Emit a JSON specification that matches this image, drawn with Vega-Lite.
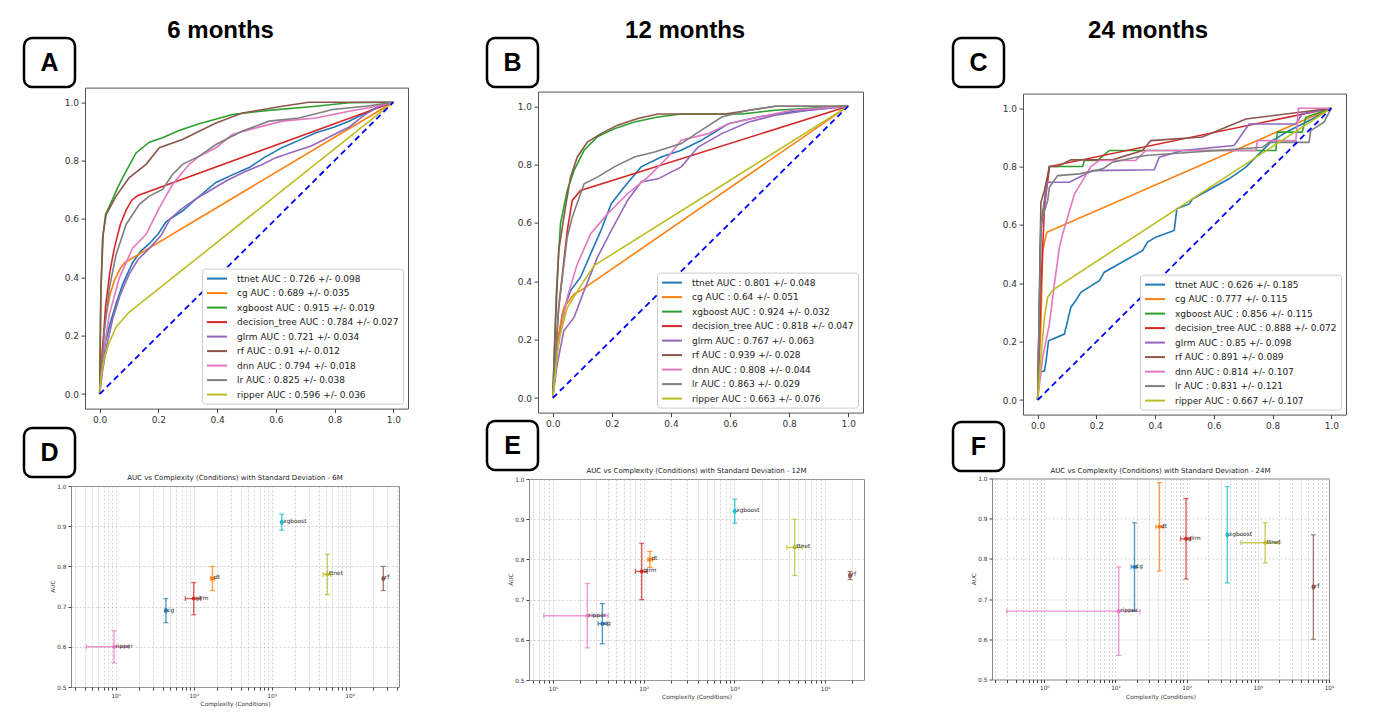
{
"$schema": "https://vega.github.io/schema/vega-lite/v6.json",
"background": "white",
"padding": {"left": 22, "top": 18, "right": 0, "bottom": 0},
"config": {"view": {"stroke": "#555", "strokeWidth": 1}, "font": "DejaVu Sans", "axis": {"labelOverlap": false}},
"resolve": {"scale": {"color": "independent"}},
"spacing": 86,
"hconcat": [
{
"resolve": {"scale": {"color": "independent"}},
"spacing": 76,
"hconcat": [
{
"title": {"text": "6 months", "fontSize": 24, "font": "Liberation Sans", "fontWeight": "bold", "color": "black", "anchor": "middle", "offset": -6, "dx": 5},
"resolve": {"scale": {"color": "independent"}},
"align": "none",
"spacing": 1,
"vconcat": [
{
"resolve": {"scale": {"color": "independent"}},
"align": "none",
"spacing": -2.4,
"vconcat": [
{"width": 51, "height": 49, "view": {"stroke": "black", "strokeWidth": 2.5, "cornerRadius": 8},
 "data": {"values": [{"t": "A"}]},
 "mark": {"type": "text", "fontSize": 25, "fontWeight": "bold", "font": "Liberation Sans", "color": "black"},
 "encoding": {"text": {"field": "t"}, "x": {"field": "t", "type": "nominal", "axis": null}, "y": {"field": "t", "type": "nominal", "axis": null}}},
{"resolve": {"scale": {"color": "independent"}, "legend": {"color": "independent"}},
 "spacing": 0,
 "hconcat": [
{"width": 1, "height": 1, "view": {"stroke": null}, "data": {"values": [{"t": ""}]}, "mark": {"type": "text", "baseline": "top", "align": "left", "fontSize": 1}, "encoding": {"text": {"field": "t"}}},
{"width": 323, "height": 321, "view": {"stroke": "#555"},
 "layer": [
 {"data": {"values": [
{"m":"ttnet","x":0,"y":0},{"m":"ttnet","x":0.008,"y":0.09},{"m":"ttnet","x":0.02,"y":0.18},{"m":"ttnet","x":0.035,"y":0.24},{"m":"ttnet","x":0.056,"y":0.31},{"m":"ttnet","x":0.08,"y":0.38},{"m":"ttnet","x":0.112,"y":0.45},{"m":"ttnet","x":0.14,"y":0.49},{"m":"ttnet","x":0.169,"y":0.515},{"m":"ttnet","x":0.2,"y":0.55},{"m":"ttnet","x":0.226,"y":0.59},{"m":"ttnet","x":0.255,"y":0.61},{"m":"ttnet","x":0.282,"y":0.627},{"m":"ttnet","x":0.33,"y":0.67},{"m":"ttnet","x":0.396,"y":0.725},{"m":"ttnet","x":0.45,"y":0.75},{"m":"ttnet","x":0.509,"y":0.776},{"m":"ttnet","x":0.56,"y":0.81},{"m":"ttnet","x":0.622,"y":0.845},{"m":"ttnet","x":0.68,"y":0.87},{"m":"ttnet","x":0.736,"y":0.895},{"m":"ttnet","x":0.8,"y":0.915},{"m":"ttnet","x":0.849,"y":0.935},{"m":"ttnet","x":0.9,"y":0.96},{"m":"ttnet","x":0.95,"y":0.985},{"m":"ttnet","x":1,"y":1},
{"m":"cg","x":0,"y":0},{"m":"cg","x":0.008,"y":0.15},{"m":"cg","x":0.02,"y":0.26},{"m":"cg","x":0.035,"y":0.34},{"m":"cg","x":0.05,"y":0.39},{"m":"cg","x":0.07,"y":0.43},{"m":"cg","x":0.085,"y":0.45},{"m":"cg","x":1,"y":1},
{"m":"xgboost","x":0,"y":0},{"m":"xgboost","x":0.004,"y":0.35},{"m":"xgboost","x":0.012,"y":0.55},{"m":"xgboost","x":0.02,"y":0.615},{"m":"xgboost","x":0.044,"y":0.667},{"m":"xgboost","x":0.061,"y":0.707},{"m":"xgboost","x":0.09,"y":0.764},{"m":"xgboost","x":0.124,"y":0.826},{"m":"xgboost","x":0.169,"y":0.863},{"m":"xgboost","x":0.214,"y":0.878},{"m":"xgboost","x":0.27,"y":0.903},{"m":"xgboost","x":0.339,"y":0.926},{"m":"xgboost","x":0.452,"y":0.958},{"m":"xgboost","x":0.566,"y":0.971},{"m":"xgboost","x":0.736,"y":0.986},{"m":"xgboost","x":0.849,"y":0.998},{"m":"xgboost","x":1,"y":1},
{"m":"decision_tree","x":0,"y":0},{"m":"decision_tree","x":0.008,"y":0.12},{"m":"decision_tree","x":0.02,"y":0.3},{"m":"decision_tree","x":0.035,"y":0.42},{"m":"decision_tree","x":0.05,"y":0.5},{"m":"decision_tree","x":0.07,"y":0.58},{"m":"decision_tree","x":0.09,"y":0.63},{"m":"decision_tree","x":0.11,"y":0.665},{"m":"decision_tree","x":0.13,"y":0.68},{"m":"decision_tree","x":1,"y":1},
{"m":"glrm","x":0,"y":0},{"m":"glrm","x":0.01,"y":0.08},{"m":"glrm","x":0.025,"y":0.17},{"m":"glrm","x":0.045,"y":0.26},{"m":"glrm","x":0.07,"y":0.34},{"m":"glrm","x":0.1,"y":0.41},{"m":"glrm","x":0.13,"y":0.46},{"m":"glrm","x":0.17,"y":0.5},{"m":"glrm","x":0.21,"y":0.545},{"m":"glrm","x":0.24,"y":0.6},{"m":"glrm","x":0.28,"y":0.635},{"m":"glrm","x":0.33,"y":0.67},{"m":"glrm","x":0.38,"y":0.7},{"m":"glrm","x":0.43,"y":0.73},{"m":"glrm","x":0.49,"y":0.76},{"m":"glrm","x":0.55,"y":0.785},{"m":"glrm","x":0.6,"y":0.81},{"m":"glrm","x":0.66,"y":0.83},{"m":"glrm","x":0.72,"y":0.85},{"m":"glrm","x":0.79,"y":0.885},{"m":"glrm","x":0.85,"y":0.915},{"m":"glrm","x":0.9,"y":0.955},{"m":"glrm","x":0.95,"y":0.985},{"m":"glrm","x":1,"y":1},
{"m":"rf","x":0,"y":0},{"m":"rf","x":0.004,"y":0.35},{"m":"rf","x":0.01,"y":0.535},{"m":"rf","x":0.022,"y":0.615},{"m":"rf","x":0.056,"y":0.678},{"m":"rf","x":0.1,"y":0.741},{"m":"rf","x":0.158,"y":0.787},{"m":"rf","x":0.203,"y":0.844},{"m":"rf","x":0.282,"y":0.872},{"m":"rf","x":0.396,"y":0.929},{"m":"rf","x":0.486,"y":0.963},{"m":"rf","x":0.622,"y":0.986},{"m":"rf","x":0.712,"y":1},{"m":"rf","x":1,"y":1},
{"m":"dnn","x":0,"y":0},{"m":"dnn","x":0.01,"y":0.124},{"m":"dnn","x":0.033,"y":0.273},{"m":"dnn","x":0.067,"y":0.398},{"m":"dnn","x":0.112,"y":0.5},{"m":"dnn","x":0.158,"y":0.547},{"m":"dnn","x":0.203,"y":0.638},{"m":"dnn","x":0.248,"y":0.718},{"m":"dnn","x":0.305,"y":0.787},{"m":"dnn","x":0.339,"y":0.815},{"m":"dnn","x":0.396,"y":0.844},{"m":"dnn","x":0.452,"y":0.889},{"m":"dnn","x":0.532,"y":0.912},{"m":"dnn","x":0.622,"y":0.935},{"m":"dnn","x":0.736,"y":0.946},{"m":"dnn","x":0.849,"y":0.969},{"m":"dnn","x":0.917,"y":0.981},{"m":"dnn","x":1,"y":1},
{"m":"lr","x":0,"y":0},{"m":"lr","x":0.016,"y":0.216},{"m":"lr","x":0.033,"y":0.364},{"m":"lr","x":0.056,"y":0.478},{"m":"lr","x":0.09,"y":0.581},{"m":"lr","x":0.135,"y":0.65},{"m":"lr","x":0.169,"y":0.678},{"m":"lr","x":0.214,"y":0.701},{"m":"lr","x":0.248,"y":0.752},{"m":"lr","x":0.282,"y":0.787},{"m":"lr","x":0.339,"y":0.815},{"m":"lr","x":0.396,"y":0.855},{"m":"lr","x":0.486,"y":0.901},{"m":"lr","x":0.577,"y":0.935},{"m":"lr","x":0.679,"y":0.946},{"m":"lr","x":0.793,"y":0.975},{"m":"lr","x":0.906,"y":0.986},{"m":"lr","x":1,"y":1},
{"m":"ripper","x":0,"y":0},{"m":"ripper","x":0.005,"y":0.06},{"m":"ripper","x":0.015,"y":0.12},{"m":"ripper","x":0.03,"y":0.17},{"m":"ripper","x":0.056,"y":0.23},{"m":"ripper","x":0.1,"y":0.28},{"m":"ripper","x":0.15,"y":0.32},{"m":"ripper","x":1,"y":1}
 ]},
 "mark": {"type": "line", "strokeWidth": 1.6},
 "encoding": {
  "x": {"field": "x", "type": "quantitative", "scale": {"domain": [-0.05, 1.05], "nice": false, "zero": false}, "axis": {"values": [0,0.2,0.4,0.6,0.8,1], "format": ".1f", "title": null, "grid": false, "domain": false, "tickSize": 4, "tickColor": "#444", "labelFontSize": 9, "labelColor": "#333", "labelPadding": 2.5}},
  "y": {"field": "y", "type": "quantitative", "scale": {"domain": [-0.05, 1.05], "nice": false, "zero": false}, "axis": {"values": [0,0.2,0.4,0.6,0.8,1], "format": ".1f", "title": null, "grid": false, "domain": false, "tickSize": 4, "tickColor": "#444", "labelFontSize": 9, "labelColor": "#333", "labelPadding": 2.5, "minExtent": 59, "maxExtent": 59}},
  "color": {"field": "m", "type": "nominal", "scale": {"domain": ["ttnet","cg","xgboost","decision_tree","glrm","rf","dnn","lr","ripper"], "range": ["#1f77b4","#ff7f0e","#2ca02c","#d62728","#9467bd","#8c564b","#e377c2","#7f7f7f","#bcbd22"]},
   "legend": {"title": null, "orient": "bottom-right", "offset": 5, "padding": 4, "fillColor": "white", "strokeColor": "#ccc", "cornerRadius": 3, "labelFontSize": 9, "labelColor": "#222", "symbolType": "M-1,0H3", "symbolStrokeWidth": 2, "symbolSize": 100, "rowPadding": 3.5, "labelOffset": 19, "labelLimit": 400,
    "labelExpr": "datum.label + ' AUC : ' + (datum.label == 'ttnet' ? '0.726 +/- 0.098' : datum.label == 'cg' ? '0.689 +/- 0.035' : datum.label == 'xgboost' ? '0.915 +/- 0.019' : datum.label == 'decision_tree' ? '0.784 +/- 0.027' : datum.label == 'glrm' ? '0.721 +/- 0.034' : datum.label == 'rf' ? '0.91 +/- 0.012' : datum.label == 'dnn' ? '0.794 +/- 0.018' : datum.label == 'lr' ? '0.825 +/- 0.038' : '0.596 +/- 0.036')"}},
  "order": [{"field": "x", "type": "quantitative"}, {"field": "y", "type": "quantitative"}]
 }},
 {"data": {"values": [{"x": 0, "y": 0}, {"x": 1, "y": 1}]},
  "mark": {"type": "line", "color": "blue", "strokeDash": [6, 4], "strokeWidth": 1.8},
  "encoding": {"x": {"field": "x", "type": "quantitative"}, "y": {"field": "y", "type": "quantitative"}}}
 ]}
]}
]
},
{
"resolve": {"scale": {"color": "independent"}},
"align": "none",
"spacing": -6,
"vconcat": [
{"width": 51, "height": 49, "view": {"stroke": "black", "strokeWidth": 2.5, "cornerRadius": 8},
 "data": {"values": [{"t": "D"}]},
 "mark": {"type": "text", "fontSize": 25, "fontWeight": "bold", "font": "Liberation Sans", "color": "black"},
 "encoding": {"text": {"field": "t"}, "x": {"field": "t", "type": "nominal", "axis": null}, "y": {"field": "t", "type": "nominal", "axis": null}}},
{"resolve": {"scale": {"color": "independent"}},
 "spacing": 0,
 "hconcat": [
{"width": 1, "height": 1, "view": {"stroke": null}, "data": {"values": [{"t": ""}]}, "mark": {"type": "text", "baseline": "top", "align": "left", "fontSize": 1}, "encoding": {"text": {"field": "t"}}},
{"width": 328, "height": 201, "view": {"stroke": "#888"},
 "title": {"text": "AUC vs Complexity (Conditions) with Standard Deviation - 6M", "fontSize": 7, "fontWeight": "normal", "font": "DejaVu Sans", "color": "#222", "offset": 2, "anchor": "middle"},
 "data": {"values": [
  {"m":"ripper","c":9.5,"clo":4.2,"chi":14.8,"a":0.60,"alo":0.56,"ahi":0.64},
  {"m":"cg","c":44,"clo":43,"chi":45,"a":0.69,"alo":0.66,"ahi":0.72},
  {"m":"glrm","c":100,"clo":78,"chi":122,"a":0.72,"alo":0.68,"ahi":0.76},
  {"m":"dt","c":174,"clo":164,"chi":185,"a":0.77,"alo":0.74,"ahi":0.80},
  {"m":"xgboost","c":1345,"clo":1320,"chi":1370,"a":0.91,"alo":0.89,"ahi":0.93},
  {"m":"ttnet","c":5180,"clo":4570,"chi":5760,"a":0.78,"alo":0.73,"ahi":0.83},
  {"m":"rf","c":27000,"clo":26500,"chi":27500,"a":0.77,"alo":0.74,"ahi":0.80}
 ]},
 "layer": [
  {"mark": {"type": "rule", "strokeWidth": 1.4, "opacity": 0.75},
   "encoding": {
    "x": {"field": "c", "type": "quantitative", "scale": {"type": "log", "domain": [2.67, 42900], "nice": false}, "axis": {"title": "Complexity (Conditions)", "values": [3,4,5,6,7,8,9,10,20,30,40,50,60,70,80,90,100,200,300,400,500,600,700,800,900,1000,2000,3000,4000,5000,6000,7000,8000,9000,10000,20000,30000,40000], "labelExpr": "datum.value === 1 ? '10⁰' : datum.value === 10 ? '10¹' : datum.value === 100 ? '10²' : datum.value === 1000 ? '10³' : datum.value === 10000 ? '10⁴' : ''", "labelOverlap": false, "labelFlush": false, "grid": true, "gridDash": [2, 2], "gridColor": "#bbb", "gridWidth": 0.6, "domain": false, "tickSize": 3, "tickColor": "#444", "labelFontSize": 5.8, "labelColor": "#333", "labelPadding": 2, "titleFontSize": 5.8, "titleFontWeight": "normal", "titleColor": "#333", "titlePadding": 3}},
    "y": {"field": "alo", "type": "quantitative", "scale": {"domain": [0.5, 1.0], "nice": false, "zero": false}, "axis": {"title": "AUC", "values": [0.5,0.6,0.7,0.8,0.9,1.0], "format": ".1f", "labelOverlap": false, "grid": true, "gridDash": [2, 2], "gridColor": "#bbb", "gridWidth": 0.6, "domain": false, "tickSize": 3, "tickColor": "#444", "labelFontSize": 5.8, "labelColor": "#333", "labelPadding": 2, "titleFontSize": 5.8, "titleFontWeight": "normal", "titleColor": "#333", "minExtent": 45, "maxExtent": 45, "titleX": -16, "titleY": 100}},
    "y2": {"field": "ahi"},
    "color": {"field": "m", "type": "nominal", "scale": {"domain": ["ripper","cg","glrm","dt","xgboost","ttnet","rf"], "range": ["#e377c2","#1f77b4","#d62728","#ff7f0e","#17becf","#bcbd22","#8c564b"]}, "legend": null}}},
  {"mark": {"type": "rule", "strokeWidth": 1.4, "opacity": 0.75},
   "encoding": {"x": {"field": "clo", "type": "quantitative"}, "x2": {"field": "chi"}, "y": {"field": "a", "type": "quantitative"}, "color": {"field": "m", "type": "nominal", "legend": null}}},
  {"mark": {"type": "tick", "orient": "horizontal", "size": 5, "thickness": 1.2, "opacity": 0.75},
   "encoding": {"x": {"field": "c", "type": "quantitative"}, "y": {"field": "alo", "type": "quantitative"}, "color": {"field": "m", "type": "nominal", "legend": null}}},
  {"mark": {"type": "tick", "orient": "horizontal", "size": 5, "thickness": 1.2, "opacity": 0.75},
   "encoding": {"x": {"field": "c", "type": "quantitative"}, "y": {"field": "ahi", "type": "quantitative"}, "color": {"field": "m", "type": "nominal", "legend": null}}},
  {"mark": {"type": "tick", "orient": "vertical", "size": 5, "thickness": 1.2, "opacity": 0.75},
   "encoding": {"x": {"field": "clo", "type": "quantitative"}, "y": {"field": "a", "type": "quantitative"}, "color": {"field": "m", "type": "nominal", "legend": null}}},
  {"mark": {"type": "tick", "orient": "vertical", "size": 5, "thickness": 1.2, "opacity": 0.75},
   "encoding": {"x": {"field": "chi", "type": "quantitative"}, "y": {"field": "a", "type": "quantitative"}, "color": {"field": "m", "type": "nominal", "legend": null}}},
  {"mark": {"type": "circle", "size": 16, "opacity": 1},
   "encoding": {"x": {"field": "c", "type": "quantitative"}, "y": {"field": "a", "type": "quantitative"}, "color": {"field": "m", "type": "nominal", "legend": null}}},
  {"mark": {"type": "text", "align": "left", "dx": 1.5, "dy": -1, "fontSize": 5.8, "color": "#222"},
   "encoding": {"x": {"field": "c", "type": "quantitative"}, "y": {"field": "a", "type": "quantitative"}, "text": {"field": "m"}}}
 ]}
]}
]
}
]
},
{
"title": {"text": "12 months", "fontSize": 24, "font": "Liberation Sans", "fontWeight": "bold", "color": "black", "anchor": "middle", "offset": -6, "dx": 10},
"resolve": {"scale": {"color": "independent"}},
"align": "none",
"spacing": -10,
"vconcat": [
{
"resolve": {"scale": {"color": "independent"}},
"align": "none",
"spacing": 1.6,
"vconcat": [
{"width": 51, "height": 49, "view": {"stroke": "black", "strokeWidth": 2.5, "cornerRadius": 8},
 "data": {"values": [{"t": "B"}]},
 "mark": {"type": "text", "fontSize": 25, "fontWeight": "bold", "font": "Liberation Sans", "color": "black"},
 "encoding": {"text": {"field": "t"}, "x": {"field": "t", "type": "nominal", "axis": null}, "y": {"field": "t", "type": "nominal", "axis": null}}},
{"resolve": {"scale": {"color": "independent"}, "legend": {"color": "independent"}},
 "spacing": 0,
 "hconcat": [
{"width": 1, "height": 1, "view": {"stroke": null}, "data": {"values": [{"t": ""}]}, "mark": {"type": "text", "baseline": "top", "align": "left", "fontSize": 1}, "encoding": {"text": {"field": "t"}}},
{"width": 325, "height": 321, "view": {"stroke": "#555"},
 "layer": [
 {"data": {"values": [
{"m":"ttnet","x":0,"y":0},{"m":"ttnet","x":0.015,"y":0.16},{"m":"ttnet","x":0.032,"y":0.287},{"m":"ttnet","x":0.06,"y":0.368},{"m":"ttnet","x":0.094,"y":0.414},{"m":"ttnet","x":0.128,"y":0.494},{"m":"ttnet","x":0.163,"y":0.574},{"m":"ttnet","x":0.198,"y":0.666},{"m":"ttnet","x":0.242,"y":0.723},{"m":"ttnet","x":0.299,"y":0.792},{"m":"ttnet","x":0.367,"y":0.826},{"m":"ttnet","x":0.435,"y":0.849},{"m":"ttnet","x":0.503,"y":0.883},{"m":"ttnet","x":0.594,"y":0.94},{"m":"ttnet","x":0.697,"y":0.963},{"m":"ttnet","x":0.81,"y":0.981},{"m":"ttnet","x":0.924,"y":0.992},{"m":"ttnet","x":1,"y":1},
{"m":"cg","x":0,"y":0},{"m":"cg","x":0.015,"y":0.196},{"m":"cg","x":0.0375,"y":0.31},{"m":"cg","x":0.072,"y":0.356},{"m":"cg","x":0.094,"y":0.368},{"m":"cg","x":1,"y":1},
{"m":"xgboost","x":0,"y":0},{"m":"xgboost","x":0.0125,"y":0.368},{"m":"xgboost","x":0.026,"y":0.597},{"m":"xgboost","x":0.049,"y":0.711},{"m":"xgboost","x":0.072,"y":0.78},{"m":"xgboost","x":0.106,"y":0.849},{"m":"xgboost","x":0.151,"y":0.895},{"m":"xgboost","x":0.208,"y":0.923},{"m":"xgboost","x":0.276,"y":0.946},{"m":"xgboost","x":0.356,"y":0.963},{"m":"xgboost","x":0.435,"y":0.973},{"m":"xgboost","x":0.64,"y":0.973},{"m":"xgboost","x":0.753,"y":0.986},{"m":"xgboost","x":0.98,"y":1},{"m":"xgboost","x":1,"y":1},
{"m":"decision_tree","x":0,"y":0},{"m":"decision_tree","x":0.009,"y":0.139},{"m":"decision_tree","x":0.02,"y":0.31},{"m":"decision_tree","x":0.049,"y":0.574},{"m":"decision_tree","x":0.066,"y":0.677},{"m":"decision_tree","x":0.094,"y":0.711},{"m":"decision_tree","x":1,"y":1},
{"m":"glrm","x":0,"y":0},{"m":"glrm","x":0.015,"y":0.116},{"m":"glrm","x":0.0375,"y":0.23},{"m":"glrm","x":0.072,"y":0.276},{"m":"glrm","x":0.106,"y":0.368},{"m":"glrm","x":0.151,"y":0.482},{"m":"glrm","x":0.198,"y":0.574},{"m":"glrm","x":0.253,"y":0.677},{"m":"glrm","x":0.299,"y":0.74},{"m":"glrm","x":0.356,"y":0.751},{"m":"glrm","x":0.435,"y":0.792},{"m":"glrm","x":0.492,"y":0.86},{"m":"glrm","x":0.572,"y":0.906},{"m":"glrm","x":0.663,"y":0.946},{"m":"glrm","x":0.753,"y":0.969},{"m":"glrm","x":0.867,"y":0.986},{"m":"glrm","x":1,"y":1},
{"m":"rf","x":0,"y":0},{"m":"rf","x":0.009,"y":0.253},{"m":"rf","x":0.02,"y":0.505},{"m":"rf","x":0.043,"y":0.654},{"m":"rf","x":0.06,"y":0.757},{"m":"rf","x":0.083,"y":0.826},{"m":"rf","x":0.117,"y":0.877},{"m":"rf","x":0.163,"y":0.906},{"m":"rf","x":0.219,"y":0.935},{"m":"rf","x":0.288,"y":0.958},{"m":"rf","x":0.356,"y":0.973},{"m":"rf","x":0.583,"y":0.973},{"m":"rf","x":0.753,"y":1},{"m":"rf","x":1,"y":1},
{"m":"dnn","x":0,"y":0},{"m":"dnn","x":0.015,"y":0.16},{"m":"dnn","x":0.049,"y":0.345},{"m":"dnn","x":0.083,"y":0.459},{"m":"dnn","x":0.128,"y":0.562},{"m":"dnn","x":0.185,"y":0.631},{"m":"dnn","x":0.253,"y":0.7},{"m":"dnn","x":0.322,"y":0.757},{"m":"dnn","x":0.39,"y":0.826},{"m":"dnn","x":0.435,"y":0.883},{"m":"dnn","x":0.526,"y":0.906},{"m":"dnn","x":0.594,"y":0.94},{"m":"dnn","x":0.697,"y":0.963},{"m":"dnn","x":0.81,"y":0.986},{"m":"dnn","x":1,"y":1},
{"m":"lr","x":0,"y":0},{"m":"lr","x":0.02,"y":0.31},{"m":"lr","x":0.049,"y":0.551},{"m":"lr","x":0.066,"y":0.62},{"m":"lr","x":0.106,"y":0.734},{"m":"lr","x":0.151,"y":0.757},{"m":"lr","x":0.208,"y":0.792},{"m":"lr","x":0.276,"y":0.826},{"m":"lr","x":0.344,"y":0.843},{"m":"lr","x":0.435,"y":0.872},{"m":"lr","x":0.503,"y":0.918},{"m":"lr","x":0.572,"y":0.963},{"m":"lr","x":0.663,"y":0.986},{"m":"lr","x":0.753,"y":1},{"m":"lr","x":1,"y":1},
{"m":"ripper","x":0,"y":0},{"m":"ripper","x":0.02,"y":0.196},{"m":"ripper","x":0.049,"y":0.31},{"m":"ripper","x":0.106,"y":0.402},{"m":"ripper","x":0.14,"y":0.454},{"m":"ripper","x":1,"y":1}
 ]},
 "mark": {"type": "line", "strokeWidth": 1.6},
 "encoding": {
  "x": {"field": "x", "type": "quantitative", "scale": {"domain": [-0.05, 1.05], "nice": false, "zero": false}, "axis": {"values": [0,0.2,0.4,0.6,0.8,1], "format": ".1f", "title": null, "grid": false, "domain": false, "tickSize": 4, "tickColor": "#444", "labelFontSize": 9, "labelColor": "#333", "labelPadding": 2.5}},
  "y": {"field": "y", "type": "quantitative", "scale": {"domain": [-0.05, 1.05], "nice": false, "zero": false}, "axis": {"values": [0,0.2,0.4,0.6,0.8,1], "format": ".1f", "title": null, "grid": false, "domain": false, "tickSize": 4, "tickColor": "#444", "labelFontSize": 9, "labelColor": "#333", "labelPadding": 2.5, "minExtent": 49, "maxExtent": 49}},
  "color": {"field": "m", "type": "nominal", "scale": {"domain": ["ttnet","cg","xgboost","decision_tree","glrm","rf","dnn","lr","ripper"], "range": ["#1f77b4","#ff7f0e","#2ca02c","#d62728","#9467bd","#8c564b","#e377c2","#7f7f7f","#bcbd22"]},
   "legend": {"title": null, "orient": "bottom-right", "offset": 5, "padding": 4, "fillColor": "white", "strokeColor": "#ccc", "cornerRadius": 3, "labelFontSize": 9, "labelColor": "#222", "symbolType": "M-1,0H3", "symbolStrokeWidth": 2, "symbolSize": 100, "rowPadding": 3.5, "labelOffset": 19, "labelLimit": 400,
    "labelExpr": "datum.label + ' AUC : ' + (datum.label == 'ttnet' ? '0.801 +/- 0.048' : datum.label == 'cg' ? '0.64 +/- 0.051' : datum.label == 'xgboost' ? '0.924 +/- 0.032' : datum.label == 'decision_tree' ? '0.818 +/- 0.047' : datum.label == 'glrm' ? '0.767 +/- 0.063' : datum.label == 'rf' ? '0.939 +/- 0.028' : datum.label == 'dnn' ? '0.808 +/- 0.044' : datum.label == 'lr' ? '0.863 +/- 0.029' : '0.663 +/- 0.076')"}},
  "order": [{"field": "x", "type": "quantitative"}, {"field": "y", "type": "quantitative"}]
 }},
 {"data": {"values": [{"x": 0, "y": 0}, {"x": 1, "y": 1}]},
  "mark": {"type": "line", "color": "blue", "strokeDash": [6, 4], "strokeWidth": 1.8},
  "encoding": {"x": {"field": "x", "type": "quantitative"}, "y": {"field": "y", "type": "quantitative"}}}
 ]}
]}
]
},
{
"resolve": {"scale": {"color": "independent"}},
"align": "none",
"spacing": -6,
"vconcat": [
{"width": 51, "height": 49, "view": {"stroke": "black", "strokeWidth": 2.5, "cornerRadius": 8},
 "data": {"values": [{"t": "E"}]},
 "mark": {"type": "text", "fontSize": 25, "fontWeight": "bold", "font": "Liberation Sans", "color": "black"},
 "encoding": {"text": {"field": "t"}, "x": {"field": "t", "type": "nominal", "axis": null}, "y": {"field": "t", "type": "nominal", "axis": null}}},
{"resolve": {"scale": {"color": "independent"}},
 "spacing": 0,
 "hconcat": [
{"width": 1, "height": 1, "view": {"stroke": null}, "data": {"values": [{"t": ""}]}, "mark": {"type": "text", "baseline": "top", "align": "left", "fontSize": 1}, "encoding": {"text": {"field": "t"}}},
{"width": 335, "height": 201, "view": {"stroke": "#888"},
 "title": {"text": "AUC vs Complexity (Conditions) with Standard Deviation - 12M", "fontSize": 7, "fontWeight": "normal", "font": "DejaVu Sans", "color": "#222", "offset": 2, "anchor": "middle"},
 "data": {"values": [
  {"m":"ripper","c":23.9,"clo":7.9,"chi":40.4,"a":0.66,"alo":0.58,"ahi":0.74},
  {"m":"cg","c":35,"clo":31.4,"chi":39.5,"a":0.64,"alo":0.59,"ahi":0.69},
  {"m":"glrm","c":95,"clo":81,"chi":109,"a":0.77,"alo":0.70,"ahi":0.84},
  {"m":"dt","c":117,"clo":111,"chi":125,"a":0.80,"alo":0.78,"ahi":0.82},
  {"m":"xgboost","c":1010,"clo":995,"chi":1025,"a":0.92,"alo":0.89,"ahi":0.95},
  {"m":"ttnet","c":4630,"clo":3790,"chi":5600,"a":0.83,"alo":0.76,"ahi":0.90},
  {"m":"rf","c":18900,"clo":18400,"chi":19400,"a":0.76,"alo":0.75,"ahi":0.77}
 ]},
 "layer": [
  {"mark": {"type": "rule", "strokeWidth": 1.4, "opacity": 0.75},
   "encoding": {
    "x": {"field": "c", "type": "quantitative", "scale": {"type": "log", "domain": [5.43, 26900], "nice": false}, "axis": {"title": "Complexity (Conditions)", "values": [6,7,8,9,10,20,30,40,50,60,70,80,90,100,200,300,400,500,600,700,800,900,1000,2000,3000,4000,5000,6000,7000,8000,9000,10000,20000], "labelExpr": "datum.value === 1 ? '10⁰' : datum.value === 10 ? '10¹' : datum.value === 100 ? '10²' : datum.value === 1000 ? '10³' : datum.value === 10000 ? '10⁴' : ''", "labelOverlap": false, "labelFlush": false, "grid": true, "gridDash": [2, 2], "gridColor": "#bbb", "gridWidth": 0.6, "domain": false, "tickSize": 3, "tickColor": "#444", "labelFontSize": 5.8, "labelColor": "#333", "labelPadding": 2, "titleFontSize": 5.8, "titleFontWeight": "normal", "titleColor": "#333", "titlePadding": 3}},
    "y": {"field": "alo", "type": "quantitative", "scale": {"domain": [0.5, 1.0], "nice": false, "zero": false}, "axis": {"title": "AUC", "values": [0.5,0.6,0.7,0.8,0.9,1.0], "format": ".1f", "labelOverlap": false, "grid": true, "gridDash": [2, 2], "gridColor": "#bbb", "gridWidth": 0.6, "domain": false, "tickSize": 3, "tickColor": "#444", "labelFontSize": 5.8, "labelColor": "#333", "labelPadding": 2, "titleFontSize": 5.8, "titleFontWeight": "normal", "titleColor": "#333", "minExtent": 40, "maxExtent": 40, "titleX": -16, "titleY": 100}},
    "y2": {"field": "ahi"},
    "color": {"field": "m", "type": "nominal", "scale": {"domain": ["ripper","cg","glrm","dt","xgboost","ttnet","rf"], "range": ["#e377c2","#1f77b4","#d62728","#ff7f0e","#17becf","#bcbd22","#8c564b"]}, "legend": null}}},
  {"mark": {"type": "rule", "strokeWidth": 1.4, "opacity": 0.75},
   "encoding": {"x": {"field": "clo", "type": "quantitative"}, "x2": {"field": "chi"}, "y": {"field": "a", "type": "quantitative"}, "color": {"field": "m", "type": "nominal", "legend": null}}},
  {"mark": {"type": "tick", "orient": "horizontal", "size": 5, "thickness": 1.2, "opacity": 0.75},
   "encoding": {"x": {"field": "c", "type": "quantitative"}, "y": {"field": "alo", "type": "quantitative"}, "color": {"field": "m", "type": "nominal", "legend": null}}},
  {"mark": {"type": "tick", "orient": "horizontal", "size": 5, "thickness": 1.2, "opacity": 0.75},
   "encoding": {"x": {"field": "c", "type": "quantitative"}, "y": {"field": "ahi", "type": "quantitative"}, "color": {"field": "m", "type": "nominal", "legend": null}}},
  {"mark": {"type": "tick", "orient": "vertical", "size": 5, "thickness": 1.2, "opacity": 0.75},
   "encoding": {"x": {"field": "clo", "type": "quantitative"}, "y": {"field": "a", "type": "quantitative"}, "color": {"field": "m", "type": "nominal", "legend": null}}},
  {"mark": {"type": "tick", "orient": "vertical", "size": 5, "thickness": 1.2, "opacity": 0.75},
   "encoding": {"x": {"field": "chi", "type": "quantitative"}, "y": {"field": "a", "type": "quantitative"}, "color": {"field": "m", "type": "nominal", "legend": null}}},
  {"mark": {"type": "circle", "size": 16, "opacity": 1},
   "encoding": {"x": {"field": "c", "type": "quantitative"}, "y": {"field": "a", "type": "quantitative"}, "color": {"field": "m", "type": "nominal", "legend": null}}},
  {"mark": {"type": "text", "align": "left", "dx": 1.5, "dy": -1, "fontSize": 5.8, "color": "#222"},
   "encoding": {"x": {"field": "c", "type": "quantitative"}, "y": {"field": "a", "type": "quantitative"}, "text": {"field": "m"}}}
 ]}
]}
]
}
]
}
]
},
{
"title": {"text": "24 months", "fontSize": 24, "font": "Liberation Sans", "fontWeight": "bold", "color": "black", "anchor": "middle", "offset": -6, "dx": -1},
"resolve": {"scale": {"color": "independent"}},
"align": "none",
"spacing": -11,
"vconcat": [
{
"resolve": {"scale": {"color": "independent"}},
"align": "none",
"spacing": 3.6,
"vconcat": [
{"width": 51, "height": 49, "view": {"stroke": "black", "strokeWidth": 2.5, "cornerRadius": 8},
 "data": {"values": [{"t": "C"}]},
 "mark": {"type": "text", "fontSize": 25, "fontWeight": "bold", "font": "Liberation Sans", "color": "black"},
 "encoding": {"text": {"field": "t"}, "x": {"field": "t", "type": "nominal", "axis": null}, "y": {"field": "t", "type": "nominal", "axis": null}}},
{"resolve": {"scale": {"color": "independent"}, "legend": {"color": "independent"}},
 "spacing": 0,
 "hconcat": [
{"width": 1, "height": 1, "view": {"stroke": null}, "data": {"values": [{"t": ""}]}, "mark": {"type": "text", "baseline": "top", "align": "left", "fontSize": 1}, "encoding": {"text": {"field": "t"}}},
{"width": 323, "height": 321, "view": {"stroke": "#555"},
 "layer": [
 {"data": {"values": [
{"m":"ttnet","x":0,"y":0},{"m":"ttnet","x":0.006,"y":0.095},{"m":"ttnet","x":0.023,"y":0.1},{"m":"ttnet","x":0.028,"y":0.129},{"m":"ttnet","x":0.037,"y":0.203},{"m":"ttnet","x":0.091,"y":0.226},{"m":"ttnet","x":0.102,"y":0.272},{"m":"ttnet","x":0.113,"y":0.318},{"m":"ttnet","x":0.13,"y":0.341},{"m":"ttnet","x":0.147,"y":0.369},{"m":"ttnet","x":0.21,"y":0.409},{"m":"ttnet","x":0.227,"y":0.438},{"m":"ttnet","x":0.357,"y":0.512},{"m":"ttnet","x":0.374,"y":0.541},{"m":"ttnet","x":0.402,"y":0.558},{"m":"ttnet","x":0.465,"y":0.581},{"m":"ttnet","x":0.474,"y":0.655},{"m":"ttnet","x":0.516,"y":0.672},{"m":"ttnet","x":0.527,"y":0.689},{"m":"ttnet","x":0.652,"y":0.758},{"m":"ttnet","x":0.709,"y":0.798},{"m":"ttnet","x":0.799,"y":0.889},{"m":"ttnet","x":0.856,"y":0.923},{"m":"ttnet","x":0.935,"y":0.963},{"m":"ttnet","x":1,"y":1},
{"m":"cg","x":0,"y":0},{"m":"cg","x":0.011,"y":0.261},{"m":"cg","x":0.017,"y":0.512},{"m":"cg","x":0.031,"y":0.575},{"m":"cg","x":1,"y":1},
{"m":"xgboost","x":0,"y":0},{"m":"xgboost","x":0.011,"y":0.603},{"m":"xgboost","x":0.028,"y":0.718},{"m":"xgboost","x":0.04,"y":0.8},{"m":"xgboost","x":0.153,"y":0.8},{"m":"xgboost","x":0.159,"y":0.821},{"m":"xgboost","x":0.204,"y":0.821},{"m":"xgboost","x":0.244,"y":0.855},{"m":"xgboost","x":0.811,"y":0.855},{"m":"xgboost","x":0.816,"y":0.918},{"m":"xgboost","x":0.901,"y":0.918},{"m":"xgboost","x":0.913,"y":0.969},{"m":"xgboost","x":1,"y":1},
{"m":"decision_tree","x":0,"y":0},{"m":"decision_tree","x":0.011,"y":0.375},{"m":"decision_tree","x":0.023,"y":0.66},{"m":"decision_tree","x":0.04,"y":0.8},{"m":"decision_tree","x":1,"y":1},
{"m":"glrm","x":0,"y":0},{"m":"glrm","x":0.011,"y":0.58},{"m":"glrm","x":0.028,"y":0.718},{"m":"glrm","x":0.034,"y":0.746},{"m":"glrm","x":0.108,"y":0.746},{"m":"glrm","x":0.187,"y":0.786},{"m":"glrm","x":0.397,"y":0.789},{"m":"glrm","x":0.414,"y":0.832},{"m":"glrm","x":0.493,"y":0.855},{"m":"glrm","x":0.669,"y":0.872},{"m":"glrm","x":0.72,"y":0.946},{"m":"glrm","x":0.879,"y":0.946},{"m":"glrm","x":0.901,"y":0.981},{"m":"glrm","x":1,"y":1},
{"m":"rf","x":0,"y":0},{"m":"rf","x":0.011,"y":0.678},{"m":"rf","x":0.023,"y":0.718},{"m":"rf","x":0.04,"y":0.8},{"m":"rf","x":0.068,"y":0.8},{"m":"rf","x":0.113,"y":0.823},{"m":"rf","x":0.255,"y":0.823},{"m":"rf","x":0.357,"y":0.855},{"m":"rf","x":0.385,"y":0.889},{"m":"rf","x":0.561,"y":0.901},{"m":"rf","x":0.709,"y":0.963},{"m":"rf","x":1,"y":1},
{"m":"dnn","x":0,"y":0},{"m":"dnn","x":0.017,"y":0.146},{"m":"dnn","x":0.04,"y":0.261},{"m":"dnn","x":0.057,"y":0.398},{"m":"dnn","x":0.074,"y":0.523},{"m":"dnn","x":0.085,"y":0.569},{"m":"dnn","x":0.102,"y":0.626},{"m":"dnn","x":0.125,"y":0.706},{"m":"dnn","x":0.153,"y":0.752},{"m":"dnn","x":0.181,"y":0.8},{"m":"dnn","x":0.21,"y":0.821},{"m":"dnn","x":0.334,"y":0.821},{"m":"dnn","x":0.368,"y":0.855},{"m":"dnn","x":0.743,"y":0.855},{"m":"dnn","x":0.748,"y":0.889},{"m":"dnn","x":0.879,"y":0.889},{"m":"dnn","x":0.888,"y":1},{"m":"dnn","x":1,"y":1},
{"m":"lr","x":0,"y":0},{"m":"lr","x":0.011,"y":0.609},{"m":"lr","x":0.034,"y":0.683},{"m":"lr","x":0.04,"y":0.729},{"m":"lr","x":0.068,"y":0.769},{"m":"lr","x":0.142,"y":0.775},{"m":"lr","x":0.221,"y":0.792},{"m":"lr","x":0.255,"y":0.815},{"m":"lr","x":0.334,"y":0.832},{"m":"lr","x":0.368,"y":0.838},{"m":"lr","x":0.765,"y":0.866},{"m":"lr","x":0.788,"y":0.883},{"m":"lr","x":0.924,"y":0.883},{"m":"lr","x":0.93,"y":0.923},{"m":"lr","x":0.975,"y":0.952},{"m":"lr","x":1,"y":1},
{"m":"ripper","x":0,"y":0},{"m":"ripper","x":0.011,"y":0.146},{"m":"ripper","x":0.023,"y":0.283},{"m":"ripper","x":0.034,"y":0.352},{"m":"ripper","x":0.051,"y":0.377},{"m":"ripper","x":1,"y":1}
 ]},
 "mark": {"type": "line", "strokeWidth": 1.6},
 "encoding": {
  "x": {"field": "x", "type": "quantitative", "scale": {"domain": [-0.05, 1.05], "nice": false, "zero": false}, "axis": {"values": [0,0.2,0.4,0.6,0.8,1], "format": ".1f", "title": null, "grid": false, "domain": false, "tickSize": 4, "tickColor": "#444", "labelFontSize": 9, "labelColor": "#333", "labelPadding": 2.5}},
  "y": {"field": "y", "type": "quantitative", "scale": {"domain": [-0.05, 1.05], "nice": false, "zero": false}, "axis": {"values": [0,0.2,0.4,0.6,0.8,1], "format": ".1f", "title": null, "grid": false, "domain": false, "tickSize": 4, "tickColor": "#444", "labelFontSize": 9, "labelColor": "#333", "labelPadding": 2.5, "minExtent": 68, "maxExtent": 68}},
  "color": {"field": "m", "type": "nominal", "scale": {"domain": ["ttnet","cg","xgboost","decision_tree","glrm","rf","dnn","lr","ripper"], "range": ["#1f77b4","#ff7f0e","#2ca02c","#d62728","#9467bd","#8c564b","#e377c2","#7f7f7f","#bcbd22"]},
   "legend": {"title": null, "orient": "bottom-right", "offset": 5, "padding": 4, "fillColor": "white", "strokeColor": "#ccc", "cornerRadius": 3, "labelFontSize": 9, "labelColor": "#222", "symbolType": "M-1,0H3", "symbolStrokeWidth": 2, "symbolSize": 100, "rowPadding": 3.5, "labelOffset": 19, "labelLimit": 400,
    "labelExpr": "datum.label + ' AUC : ' + (datum.label == 'ttnet' ? '0.626 +/- 0.185' : datum.label == 'cg' ? '0.777 +/- 0.115' : datum.label == 'xgboost' ? '0.856 +/- 0.115' : datum.label == 'decision_tree' ? '0.888 +/- 0.072' : datum.label == 'glrm' ? '0.85 +/- 0.098' : datum.label == 'rf' ? '0.891 +/- 0.089' : datum.label == 'dnn' ? '0.814 +/- 0.107' : datum.label == 'lr' ? '0.831 +/- 0.121' : '0.667 +/- 0.107')"}},
  "order": [{"field": "x", "type": "quantitative"}, {"field": "y", "type": "quantitative"}]
 }},
 {"data": {"values": [{"x": 0, "y": 0}, {"x": 1, "y": 1}]},
  "mark": {"type": "line", "color": "blue", "strokeDash": [6, 4], "strokeWidth": 1.8},
  "encoding": {"x": {"field": "x", "type": "quantitative"}, "y": {"field": "y", "type": "quantitative"}}}
 ]}
]}
]
},
{
"resolve": {"scale": {"color": "independent"}},
"align": "none",
"spacing": -7.5,
"vconcat": [
{"width": 51, "height": 49, "view": {"stroke": "black", "strokeWidth": 2.5, "cornerRadius": 8},
 "data": {"values": [{"t": "F"}]},
 "mark": {"type": "text", "fontSize": 25, "fontWeight": "bold", "font": "Liberation Sans", "color": "black"},
 "encoding": {"text": {"field": "t"}, "x": {"field": "t", "type": "nominal", "axis": null}, "y": {"field": "t", "type": "nominal", "axis": null}}},
{"resolve": {"scale": {"color": "independent"}},
 "spacing": 0,
 "hconcat": [
{"width": 1, "height": 1, "view": {"stroke": null}, "data": {"values": [{"t": ""}]}, "mark": {"type": "text", "baseline": "top", "align": "left", "fontSize": 1}, "encoding": {"text": {"field": "t"}}},
{"width": 337, "height": 201, "view": {"stroke": "#888"},
 "title": {"text": "AUC vs Complexity (Conditions) with Standard Deviation - 24M", "fontSize": 7, "fontWeight": "normal", "font": "DejaVu Sans", "color": "#222", "offset": 2, "anchor": "middle"},
 "data": {"values": [
  {"m":"ripper","c":11.1,"clo":0.296,"chi":22.2,"a":0.67,"alo":0.56,"ahi":0.78},
  {"m":"cg","c":18.5,"clo":16.6,"chi":20.1,"a":0.78,"alo":0.67,"ahi":0.89},
  {"m":"dt","c":41.5,"clo":36.9,"chi":46.8,"a":0.88,"alo":0.77,"ahi":0.99},
  {"m":"glrm","c":98,"clo":82,"chi":114,"a":0.85,"alo":0.75,"ahi":0.95},
  {"m":"xgboost","c":372,"clo":365,"chi":379,"a":0.86,"alo":0.74,"ahi":0.98},
  {"m":"ttnet","c":1267,"clo":578,"chi":1950,"a":0.84,"alo":0.79,"ahi":0.89},
  {"m":"rf","c":6030,"clo":5900,"chi":6160,"a":0.73,"alo":0.60,"ahi":0.86}
 ]},
 "layer": [
  {"mark": {"type": "rule", "strokeWidth": 1.4, "opacity": 0.75},
   "encoding": {
    "x": {"field": "c", "type": "quantitative", "scale": {"type": "log", "domain": [0.184, 10000], "nice": false}, "axis": {"title": "Complexity (Conditions)", "values": [0.2,0.3,0.4,0.5,0.6,0.7,0.8,0.9,1,2,3,4,5,6,7,8,9,10,20,30,40,50,60,70,80,90,100,200,300,400,500,600,700,800,900,1000,2000,3000,4000,5000,6000,7000,8000,9000,10000], "labelExpr": "datum.value === 1 ? '10⁰' : datum.value === 10 ? '10¹' : datum.value === 100 ? '10²' : datum.value === 1000 ? '10³' : datum.value === 10000 ? '10⁴' : ''", "labelOverlap": false, "labelFlush": false, "grid": true, "gridDash": [2, 2], "gridColor": "#bbb", "gridWidth": 0.6, "domain": false, "tickSize": 3, "tickColor": "#444", "labelFontSize": 5.8, "labelColor": "#333", "labelPadding": 2, "titleFontSize": 5.8, "titleFontWeight": "normal", "titleColor": "#333", "titlePadding": 3}},
    "y": {"field": "alo", "type": "quantitative", "scale": {"domain": [0.5, 1.0], "nice": false, "zero": false}, "axis": {"title": "AUC", "values": [0.5,0.6,0.7,0.8,0.9,1.0], "format": ".1f", "labelOverlap": false, "grid": true, "gridDash": [2, 2], "gridColor": "#bbb", "gridWidth": 0.6, "domain": false, "tickSize": 3, "tickColor": "#444", "labelFontSize": 5.8, "labelColor": "#333", "labelPadding": 2, "titleFontSize": 5.8, "titleFontWeight": "normal", "titleColor": "#333", "minExtent": 37, "maxExtent": 37, "titleX": -16, "titleY": 100}},
    "y2": {"field": "ahi"},
    "color": {"field": "m", "type": "nominal", "scale": {"domain": ["ripper","cg","glrm","dt","xgboost","ttnet","rf"], "range": ["#e377c2","#1f77b4","#d62728","#ff7f0e","#17becf","#bcbd22","#8c564b"]}, "legend": null}}},
  {"mark": {"type": "rule", "strokeWidth": 1.4, "opacity": 0.75},
   "encoding": {"x": {"field": "clo", "type": "quantitative"}, "x2": {"field": "chi"}, "y": {"field": "a", "type": "quantitative"}, "color": {"field": "m", "type": "nominal", "legend": null}}},
  {"mark": {"type": "tick", "orient": "horizontal", "size": 5, "thickness": 1.2, "opacity": 0.75},
   "encoding": {"x": {"field": "c", "type": "quantitative"}, "y": {"field": "alo", "type": "quantitative"}, "color": {"field": "m", "type": "nominal", "legend": null}}},
  {"mark": {"type": "tick", "orient": "horizontal", "size": 5, "thickness": 1.2, "opacity": 0.75},
   "encoding": {"x": {"field": "c", "type": "quantitative"}, "y": {"field": "ahi", "type": "quantitative"}, "color": {"field": "m", "type": "nominal", "legend": null}}},
  {"mark": {"type": "tick", "orient": "vertical", "size": 5, "thickness": 1.2, "opacity": 0.75},
   "encoding": {"x": {"field": "clo", "type": "quantitative"}, "y": {"field": "a", "type": "quantitative"}, "color": {"field": "m", "type": "nominal", "legend": null}}},
  {"mark": {"type": "tick", "orient": "vertical", "size": 5, "thickness": 1.2, "opacity": 0.75},
   "encoding": {"x": {"field": "chi", "type": "quantitative"}, "y": {"field": "a", "type": "quantitative"}, "color": {"field": "m", "type": "nominal", "legend": null}}},
  {"mark": {"type": "circle", "size": 16, "opacity": 1},
   "encoding": {"x": {"field": "c", "type": "quantitative"}, "y": {"field": "a", "type": "quantitative"}, "color": {"field": "m", "type": "nominal", "legend": null}}},
  {"mark": {"type": "text", "align": "left", "dx": 1.5, "dy": -1, "fontSize": 5.8, "color": "#222"},
   "encoding": {"x": {"field": "c", "type": "quantitative"}, "y": {"field": "a", "type": "quantitative"}, "text": {"field": "m"}}}
 ]}
]}
]
}
]
}
]
}
